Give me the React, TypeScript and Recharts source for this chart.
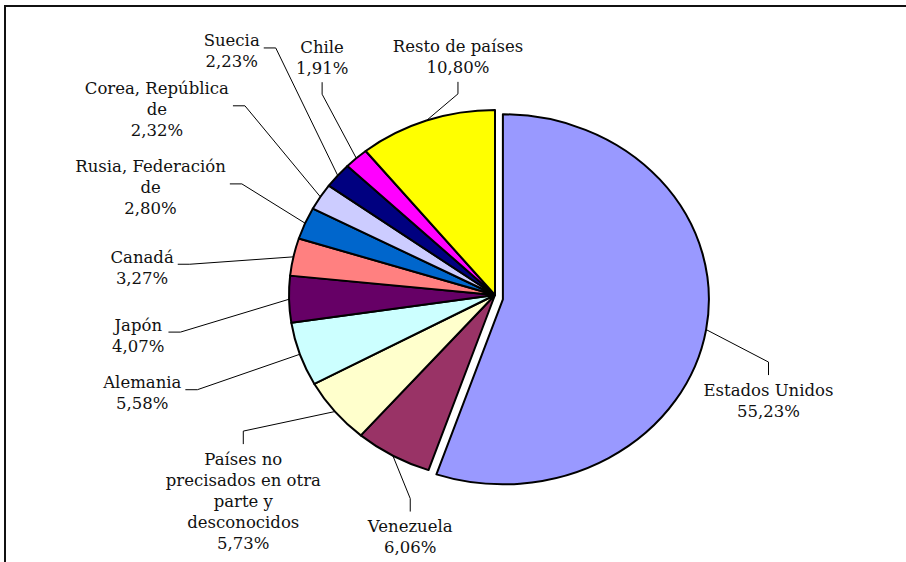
import React from 'react';
import { PieChart, Pie, Cell } from 'recharts';

// Exportaciones por país de destino (participación %)
const paises = [
  'Estados Unidos',
  'Venezuela',
  'Países no precisados en otra parte y desconocidos',
  'Alemania',
  'Japón',
  'Canadá',
  'Rusia, Federación de',
  'Corea, República de',
  'Suecia',
  'Chile',
  'Resto de países'
];
const participacion = [55.23, 6.06, 5.73, 5.58, 4.07, 3.27, 2.8, 2.32, 2.23, 1.91, 10.8];

const colores = [
  '#9999FF', '#993366', '#FFFFCC', '#CCFFFF', '#660066', '#FF8080',
  '#0066CC', '#CCCCFF', '#000080', '#FF00FF', '#FFFF00'
];

// label placement relative to each slice: angle shift (deg), distance (px), stub direction
const labelLayout = [
  { shift: -11.6, dist: 293, stub: 'v' },
  { shift: 10.4, dist: 256, stub: 'v' },
  { shift: 0.2, dist: 325, stub: 'v' },
  { shift: -3.2, dist: 366, stub: 'h' },
  { shift: 5.1, dist: 359, stub: 'h' },
  { shift: 7.4, dist: 354, stub: 'h' },
  { shift: 5.4, dist: 361, stub: 'h' },
  { shift: 3.2, dist: 386, stub: 'h' },
  { shift: -2.6, dist: 359, stub: 'h' },
  { shift: -6.3, dist: 294, stub: 'v' },
  { shift: -10.6, dist: 241, stub: 'v' }
];

const data = paises.map((name, i) => ({ name, value: participacion[i] }));

const RY = 185;
const X_STRETCH = 206 / 185; // the original pie is a bit wider than tall
const EXPLODED = 'Estados Unidos';
const EXPLODE_DIST = 8;
const FONT = 'DejaVu Serif';
const FONT_SIZE = 16.5;
const LINE_H = 21;

const RAD = Math.PI / 180;

let ctx: CanvasRenderingContext2D | null = null;
function textWidth(s: string) {
  if (!ctx) ctx = document.createElement('canvas').getContext('2d');
  if (!ctx) return s.length * 9;
  ctx.font = `${FONT_SIZE}px "${FONT}"`;
  return ctx.measureText(s).width;
}

function wrap(text: string, maxChars = 18) {
  const words = text.split(' ');
  const lines: string[] = [];
  let cur = '';
  words.forEach((w) => {
    const next = cur ? cur + ' ' + w : w;
    if (next.length > maxChars && cur) {
      lines.push(cur);
      cur = w;
    } else cur = next;
  });
  if (cur) lines.push(cur);
  return lines;
}

function explodeOffset(name: string, midAngle: number) {
  if (name !== EXPLODED) return { ex: 0, ey: 0 };
  return {
    ex: EXPLODE_DIST * Math.cos(midAngle * RAD),
    ey: -EXPLODE_DIST * Math.sin(midAngle * RAD) + 3
  };
}

function ellipsePt(cx: number, cy: number, r: number, a: number) {
  return [cx + r * X_STRETCH * Math.cos(a * RAD), cy - r * Math.sin(a * RAD)];
}

function EllipseSector(props: any) {
  const { cx, cy, outerRadius, startAngle, endAngle, fill, name, midAngle } = props;
  const { ex, ey } = explodeOffset(name, midAngle);
  const x0 = cx + ex;
  const y0 = cy + ey;
  const [sx, sy] = ellipsePt(x0, y0, outerRadius, startAngle);
  const [tx, ty] = ellipsePt(x0, y0, outerRadius, endAngle);
  const large = Math.abs(endAngle - startAngle) > 180 ? 1 : 0;
  const sweep = endAngle < startAngle ? 1 : 0;
  const d = `M${x0},${y0} L${sx},${sy} A${outerRadius * X_STRETCH},${outerRadius} 0 ${large} ${sweep} ${tx},${ty} Z`;
  return <path d={d} fill={fill} stroke="#000" strokeWidth={2} strokeLinejoin="round" />;
}

function renderLabel(props: any) {
  const { cx, cy, midAngle, outerRadius, index, name, value } = props;
  const lay = labelLayout[index];
  const a = (midAngle + lay.shift) * RAD;
  const lx = cx + lay.dist * Math.cos(a);
  const ly = cy - lay.dist * Math.sin(a);
  const lines = [...wrap(name), value.toFixed(2).replace('.', ',') + '%'];
  const n = lines.length;
  const w = Math.max(...lines.map(textWidth));
  const top = ly - (n * LINE_H) / 2;
  const bottom = ly + (n * LINE_H) / 2;

  const { ex, ey } = explodeOffset(name, midAngle);
  const [px, py] = ellipsePt(cx + ex, cy + ey, outerRadius, midAngle);

  let stub: number[];
  if (lay.stub === 'h') {
    const sy = ly - 3;
    if (lx < cx) stub = [lx + w / 2 + 4, sy, lx + w / 2 + 16, sy];
    else stub = [lx - w / 2 - 4, sy, lx - w / 2 - 16, sy];
  } else if (ly > cy) {
    stub = [lx, top - 4, lx, top - 17];
  } else {
    stub = [lx, bottom + 4, lx, bottom + 16];
  }

  return (
    <g key={`lbl-${index}`}>
      <polyline
        points={`${stub[0]},${stub[1]} ${stub[2]},${stub[3]} ${px},${py}`}
        fill="none"
        stroke="#000"
        strokeWidth={1}
      />
      <text textAnchor="middle" fontFamily={FONT} fontSize={FONT_SIZE} fill="#111">
        {lines.map((l, i) => (
          <tspan key={i} x={lx} y={top + LINE_H * (i + 0.5)} dy="0.36em">
            {l}
          </tspan>
        ))}
      </text>
    </g>
  );
}

export default function App() {
  return (
    <div style={{ position: 'absolute', left: 0, top: 0, width: 906, height: 562, background: '#fff', overflow: 'hidden' }}>
      <div
        style={{
          position: 'absolute',
          left: 4,
          top: 5,
          width: 920,
          height: 580,
          borderLeft: '2px solid #111',
          borderTop: '2px solid #111'
        }}
      />
      <PieChart width={906} height={562}>
        <Pie
          data={data}
          dataKey="value"
          nameKey="name"
          cx={490}
          cy={290}
          outerRadius={RY}
          startAngle={90}
          endAngle={-270}
          stroke="#000"
          strokeWidth={2}
          shape={EllipseSector}
          label={renderLabel}
          labelLine={false}
          isAnimationActive={false}
        >
          {data.map((d, i) => (
            <Cell key={d.name} fill={colores[i]} />
          ))}
        </Pie>
      </PieChart>
    </div>
  );
}
